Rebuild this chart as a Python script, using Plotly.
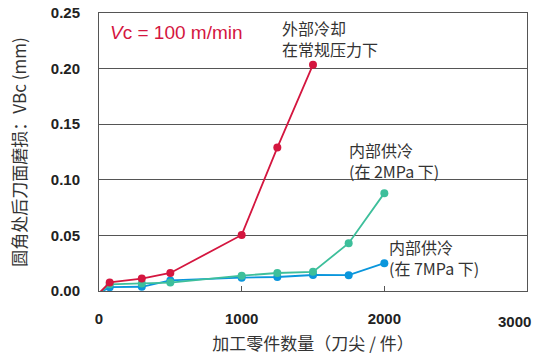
import plotly.graph_objects as go

# Data (workpieces machined per edge vs. flank wear VBc in mm)
x_ext = [0, 75, 300, 500, 1000, 1250, 1500]
y_ext = [-0.002, 0.0077, 0.0112, 0.0162, 0.0504, 0.129, 0.2035]

x_2mpa = [0, 75, 300, 500, 1000, 1250, 1500, 1750, 2000]
y_2mpa = [-0.002, 0.0060, 0.0068, 0.0076, 0.0138, 0.0162, 0.0172, 0.0430, 0.0880]

x_7mpa = [0, 75, 300, 500, 1000, 1250, 1500, 1750, 2000]
y_7mpa = [-0.002, 0.0034, 0.0038, 0.0095, 0.0120, 0.0126, 0.0144, 0.0142, 0.0250]

x_tick_vals = [0, 1000, 2000, 3000]
y_tick_vals = [0.00, 0.05, 0.10, 0.15, 0.20, 0.25]

RED = "#d4163f"
GREEN = "#3dbf9b"
BLUE = "#0a96dc"
TXT = "#333333"
CJK = "Noto Sans CJK SC, Noto Sans, sans-serif"
NUM = "Liberation Sans, Arial, Helvetica, sans-serif"

fig = go.Figure()
for xs, ys, col in [(x_7mpa, y_7mpa, BLUE), (x_2mpa, y_2mpa, GREEN), (x_ext, y_ext, RED)]:
    fig.add_trace(go.Scatter(
        x=xs, y=ys, mode="lines+markers",
        line=dict(color=col, width=1.8),
        marker=dict(color=col, size=8),
        cliponaxis=False, showlegend=False,
    ))

annos = [
    dict(x=60, y=0.2325, text="<i>V</i>c = 100 m/min", color=RED, family=NUM, size=19),
    dict(x=1270, y=0.2275, text="外部冷却<br>在常规压力下", color=TXT, family=CJK, size=16),
    dict(x=1740, y=0.1175, text="内部供冷<br>(在 2MPa 下)", color=TXT, family=CJK, size=16),
    dict(x=2020, y=0.0300, text="内部供冷<br>(在 7MPa 下)", color=TXT, family=CJK, size=16),
]
for a in annos:
    fig.add_annotation(
        x=a["x"], y=a["y"], xref="x", yref="y", text=a["text"], showarrow=False,
        xanchor="left", yanchor="middle", align="left",
        font=dict(family=a["family"], size=a["size"], color=a["color"]),
    )

# last x tick label, right-aligned inside the canvas
fig.add_annotation(
    x=x_tick_vals[-1], y=0, xref="x", yref="y", text=str(x_tick_vals[-1]),
    showarrow=False, xanchor="right", yanchor="top", yshift=-20, xshift=6,
    font=dict(family=NUM, size=15, color="#222", weight="bold"),
)

fig.update_layout(
    width=535, height=358, autosize=False,
    margin=dict(l=99, r=8, t=13, b=67),
    paper_bgcolor="white", plot_bgcolor="white",
    xaxis=dict(
        range=[0, 3000], tickvals=x_tick_vals[:-1], showgrid=False, zeroline=False,
        showline=True, mirror=True, linecolor="#555", linewidth=1,
        ticks="inside", ticklen=5, tickcolor="#555",
        tickfont=dict(family=NUM, size=15, color="#222", weight="bold"),
        ticklabelstandoff=14,
        title=dict(text="加工零件数量（刀尖 / 件）", font=dict(family=CJK, size=17, color=TXT), standoff=12),
        automargin=False,
    ),
    yaxis=dict(
        range=[0, 0.25], tickvals=y_tick_vals, tickformat=".2f", showgrid=True,
        gridcolor="#555", gridwidth=1, zeroline=False,
        showline=True, mirror=True, linecolor="#555", linewidth=1, ticks="",
        tickfont=dict(family=NUM, size=15, color="#222", weight="bold"),
        ticklabelstandoff=15,
        title=dict(text="圆角处后刀面磨损：VBc (mm)", font=dict(family=CJK, size=17, color=TXT), standoff=19),
        automargin=False,
    ),
)

fig.write_html(
    "out.html",
    config={"displayModeBar": False},
    post_script="document.body.style.margin='0';document.body.style.overflow='hidden';",
)
